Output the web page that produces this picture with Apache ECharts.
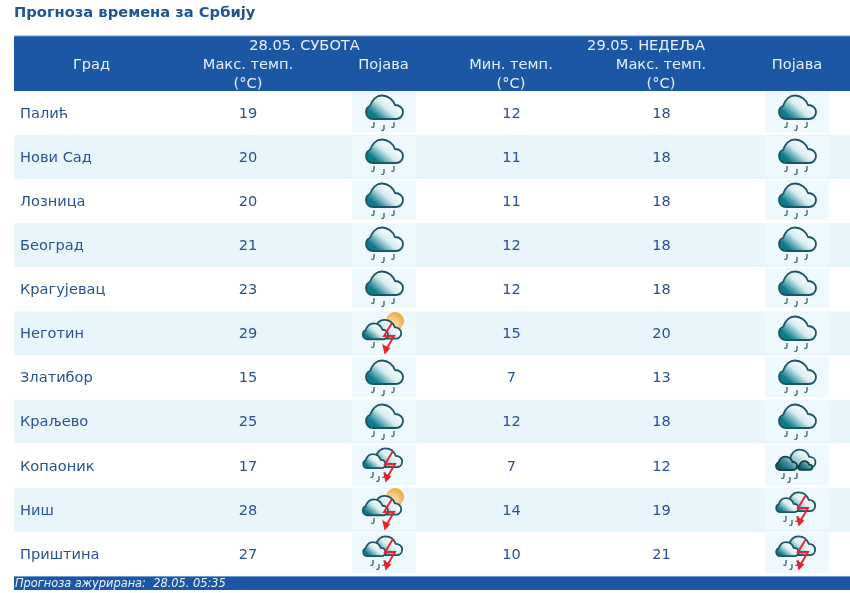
<!DOCTYPE html>
<html><head><meta charset="utf-8">
<style>html,body{margin:0;padding:0;background:#fff}#c{width:850px;height:593px}</style>
<script src="https://cdn.jsdelivr.net/npm/echarts@6/dist/echarts.min.js"></script>
</head><body><div id="c"></div>
<script>
const cities = ['Палић','Нови Сад','Лозница','Београд','Крагујевац','Неготин','Златибор','Краљево','Копаоник','Ниш','Приштина'];
const satMax = [19,20,20,21,23,29,15,25,17,28,27];
const satIcons = ['rain','rain','rain','rain','rain','sunstorm','rain','rain','storm','sunstorm','storm'];
const sunMin = [12,11,11,12,12,15,7,12,7,14,10];
const sunMax = [18,18,18,18,18,20,13,18,12,19,21];
const sunIcons = ['rain','rain','rain','rain','rain','rain','rain','rain','overcast','storm','storm'];

const HEAD='#1c57a6', TXT='#2a5296', HEADTXT='#e9f0fa', FONT='"DejaVu Sans",Verdana,sans-serif', FS=14.6;
const X={city:20,satMax:248,satIcon:384,sunMin:511.5,sunMax:661.5,sunIcon:797};

const CLOUD='M-11 7C-15 7-18 4-18 0C-18-3-16.5-5-14-6C-12-12-7.5-16.5-2-16.5C4-16.5 9-12.5 11-7C15.5-7 19-4 19 0C19 4 16 7 12 7Z';
const DROP='M0 0L0 3.6Q0 6-2.8 5';
const BOLT='M6-10L-2 3L8 3L1 15';
const grad=(a,b,c)=>({type:'linear',x:.15,y:1,x2:.65,y2:.1,colorStops:[{offset:0,color:a},{offset:.2,color:a},{offset:.62,color:b},{offset:1,color:c}]});
const cloud=(x,y,s,g,stroke)=>({type:'path',x,y,scaleX:s,scaleY:s,shape:{pathData:CLOUD},
  style:{fill:g||grad('#0e7b8d','#d6ecf0','#ffffff'),stroke:stroke||'#1c5566',lineWidth:1.8/s}});
const drop=(x,y)=>({type:'path',x,y,shape:{pathData:DROP},style:{fill:'none',stroke:'#3f5f68',lineWidth:1.3}});
const bolt=(x,y)=>[
  {type:'path',x,y,shape:{pathData:BOLT},style:{fill:'none',stroke:'#e6222e',lineWidth:1.9}},
  {type:'path',x,y,shape:{pathData:'M-3.8 11L4.2 15.5L-1.4 21.5Z'},style:{fill:'#e6222e'}}
];
const DARK=()=>grad('#0f5a68','#3d8a98','#a7cdd4');
const ICONS={
  rain:()=>[cloud(0,0,1),drop(-10,10),drop(0,13),drop(10,10)],
  sunstorm:()=>[
    {type:'circle',shape:{cx:11,cy:-12,r:9},style:{fill:{type:'radial',x:.35,y:.7,r:.8,colorStops:[{offset:0,color:'#fdebc0'},{offset:1,color:'#f0a030'}]}}},
    cloud(2,0,.8),cloud(-9,1.5,.68),drop(-10,9)].concat(bolt(2,0)),
  storm:()=>[cloud(3,-3.5,.8),cloud(-10,-1,.6),drop(-11,7),drop(-5,11),drop(1,7)].concat(bolt(3,-4)),
  overcast:()=>[
    cloud(4,-2.8,.76,grad('#6fb0bc','#cfe6ea','#ffffff')),
    cloud(-10.7,1,.57,DARK(),'#15404c'),
    cloud(8,2.3,.38,DARK(),'#15404c'),
    drop(-13,8),drop(-7,12),drop(0,8)]
};
const iconSeries=(name,x,kinds)=>({
  name,type:'custom',silent:true,z:3,clip:false,
  data:kinds.map((k,i)=>[x,cities[i]]),
  renderItem:(p,api)=>{
    const c=api.coord([api.value(0),p.dataIndex]);
    return {type:'group',x:Math.round(c[0]),y:Math.round(c[1])-1,children:[
      {type:'rect',shape:{x:-32,y:-20,width:64,height:40},style:{fill:'#edf9fd'}}
    ].concat(ICONS[kinds[p.dataIndex]]())};
  }
});
const textSeries=(name,x,vals,align)=>({
  name,type:'scatter',silent:true,symbolSize:1,itemStyle:{color:'transparent',opacity:1},z:4,
  data:vals.map((v,i)=>[x,cities[i],v]),
  label:{show:true,position:'inside',align:align||'center',offset:[0,1],formatter:p=>String(p.value[2]),color:TXT,fontSize:FS,fontFamily:FONT}
});
const head=(text,x,y)=>({type:'text',x,y,z:20,style:{text,fill:HEADTXT,font:FS+'px '+FONT,textAlign:'center',textVerticalAlign:'middle'}});

const chart=echarts.init(document.getElementById('c'),null,{renderer:'canvas'});
chart.setOption({
  animation:false,backgroundColor:'#fff',
  title:{text:'Прогноза времена за Србију',left:14,top:6,padding:0,
    textStyle:{color:'#1f5596',fontSize:14.7,fontWeight:'bold',fontFamily:FONT}},
  grid:{left:14,right:0,top:91,height:485},
  xAxis:{type:'value',min:14,max:850,show:false},
  yAxis:{type:'category',inverse:true,data:cities,boundaryGap:true,
    axisLine:{show:false},axisTick:{show:false},splitLine:{show:false},axisLabel:{show:false},
    splitArea:{show:true,interval:0,areaStyle:{color:['#ffffff','#e8f6fc']}}},
  series:[
    textSeries('Град',X.city,cities,'left'),
    textSeries('Макс. темп. 28.05.',X.satMax,satMax),
    iconSeries('Појава 28.05.',X.satIcon,satIcons),
    textSeries('Мин. темп. 29.05.',X.sunMin,sunMin),
    textSeries('Макс. темп. 29.05.',X.sunMax,sunMax),
    iconSeries('Појава 29.05.',X.sunIcon,sunIcons)
  ],
  graphic:[
    {type:'rect',z:10,shape:{x:14,y:36,width:836,height:55},style:{fill:HEAD}},
    {type:'rect',z:10,shape:{x:14,y:35.5,width:836,height:1},style:{fill:'#6f9bd0'}},
    head('28.05. СУБОТА',304.5,46),head('29.05. НЕДЕЉА',646,46),
    head('Град',91.5,65),head('Макс. темп.',248,65),head('Појава',383.5,65),
    head('Мин. темп.',511,65),head('Макс. темп.',661,65),head('Појава',797,65),
    head('(°C)',248,84),head('(°C)',511,84),head('(°C)',661,84),
    {type:'rect',z:10,shape:{x:14,y:576,width:836,height:14},style:{fill:HEAD}},
    {type:'rect',z:10,shape:{x:14,y:576,width:836,height:1},style:{fill:'#6f9bd0'}},
    {type:'text',x:15,y:584,z:20,style:{text:'Прогноза ажурирана:  28.05. 05:35',fill:'#eef3fb',font:'italic 11.4px '+FONT,textVerticalAlign:'middle'}}
  ]
});
</script></body></html>
